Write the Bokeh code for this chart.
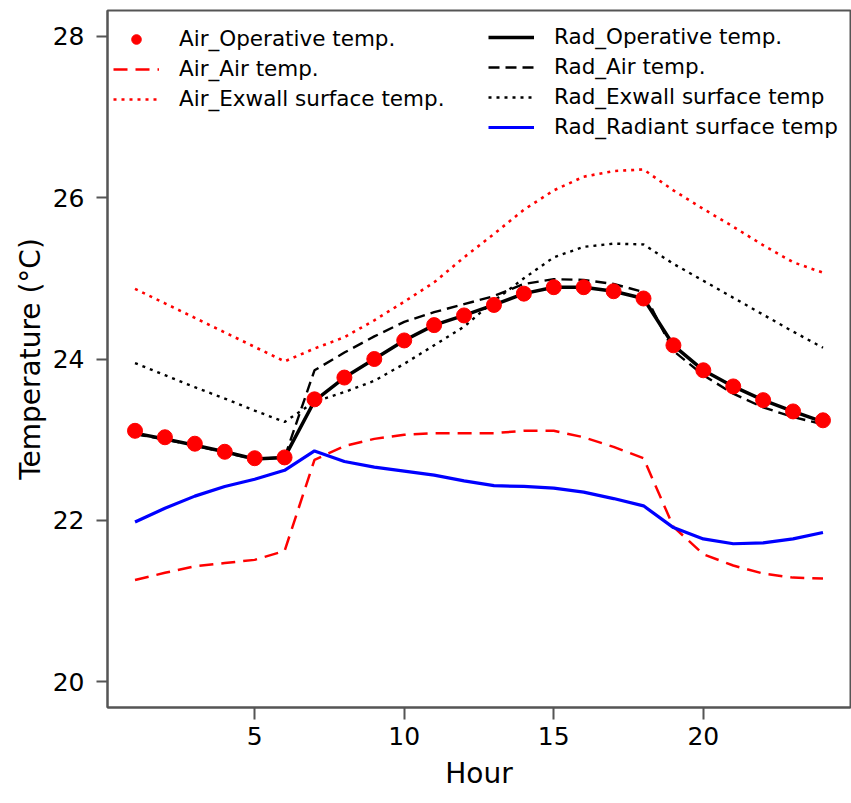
from bokeh.plotting import figure
from bokeh.models import Legend, LegendItem, FixedTicker, Range1d
from bokeh.embed import file_html
from bokeh.resources import INLINE

hours = list(range(1, 25))
air_operative = [23.11, 23.03, 22.95, 22.85, 22.77, 22.78, 23.50, 23.77, 24.00, 24.23, 24.42, 24.54,
                 24.67, 24.81, 24.89, 24.89, 24.84, 24.75, 24.17, 23.86, 23.66, 23.49, 23.35, 23.24]
air_air = [21.26, 21.35, 21.43, 21.47, 21.51, 21.62, 22.75, 22.92, 23.01, 23.06, 23.08, 23.08,
           23.08, 23.11, 23.11, 23.03, 22.91, 22.77, 21.92, 21.58, 21.44, 21.34, 21.29, 21.28]
air_exwall = [24.87, 24.69, 24.51, 24.33, 24.15, 23.97, 24.13, 24.27, 24.48, 24.71, 24.95, 25.26,
              25.55, 25.85, 26.09, 26.26, 26.33, 26.35, 26.09, 25.86, 25.64, 25.41, 25.20, 25.07]
rad_operative = [23.08, 23.01, 22.93, 22.85, 22.76, 22.78, 23.48, 23.77, 24.00, 24.23, 24.42, 24.54,
                 24.67, 24.81, 24.89, 24.89, 24.84, 24.75, 24.17, 23.86, 23.66, 23.49, 23.35, 23.22]
rad_air = [23.07, 23.00, 22.93, 22.84, 22.76, 22.78, 23.86, 24.08, 24.28, 24.46, 24.58, 24.68,
           24.78, 24.93, 24.99, 24.98, 24.93, 24.83, 24.10, 23.80, 23.57, 23.40, 23.28, 23.19]
rad_exwall = [23.95, 23.80, 23.65, 23.51, 23.36, 23.22, 23.47, 23.59, 23.73, 23.94, 24.17, 24.40,
              24.72, 25.00, 25.26, 25.39, 25.43, 25.42, 25.18, 24.97, 24.76, 24.55, 24.34, 24.14]
rad_radiant = [21.98, 22.15, 22.30, 22.42, 22.51, 22.62, 22.86, 22.73, 22.66, 22.61, 22.56, 22.49,
               22.43, 22.42, 22.40, 22.35, 22.27, 22.18, 21.91, 21.77, 21.71, 21.72, 21.77, 21.85]

x_ticks = [5, 10, 15, 20]
y_ticks = [20, 22, 24, 26, 28]

FONT = "DejaVu Sans"
AX = "#555555"

p = figure(width=851, height=803, output_backend="svg", toolbar_location=None,
           x_range=Range1d(0.08, 24.92), y_range=Range1d(19.68, 28.32),
           min_border_left=107, min_border_right=1, min_border_top=10, min_border_bottom=96,
           x_axis_label="Hour", y_axis_label="Temperature (\u00b0C)")
p.xgrid.visible = False
p.ygrid.visible = False
p.outline_line_color = AX
p.outline_line_width = 2
p.background_fill_color = "white"
p.border_fill_color = "white"

for ax in (p.xaxis[0], p.yaxis[0]):
    ax.axis_line_color = AX
    ax.axis_line_width = 2
    ax.major_tick_line_color = AX
    ax.major_tick_line_width = 2
    ax.minor_tick_line_color = None
    ax.major_tick_in = 0
    ax.major_label_text_font = FONT
    ax.major_label_text_font_size = "25px"
    ax.major_label_text_color = "black"
    ax.axis_label_text_font = FONT
    ax.axis_label_text_font_size = "28px"
    ax.axis_label_text_font_style = "normal"
    ax.axis_label_text_color = "black"

p.xaxis.ticker = FixedTicker(ticks=x_ticks)
p.yaxis.ticker = FixedTicker(ticks=y_ticks)
p.xaxis.major_tick_out = 12
p.yaxis.major_tick_out = 11
p.xaxis.major_label_standoff = 7
p.yaxis.major_label_standoff = 12
p.xaxis.axis_label_standoff = 9
p.yaxis.axis_label_standoff = 3

r_aair = p.line(hours, air_air, line_color="#ff0000", line_width=2.5, line_dash="14 8")
r_aex = p.line(hours, air_exwall, line_color="#ff0000", line_width=2.6, line_dash="3 5")
r_rex = p.line(hours, rad_exwall, line_color="black", line_width=2.4, line_dash="3 5")
r_rair = p.line(hours, rad_air, line_color="black", line_width=2.4, line_dash="11 6")
r_rad = p.line(hours, rad_radiant, line_color="#0000ff", line_width=3.2)
r_rop = p.line(hours, rad_operative, line_color="black", line_width=3.5)
r_aop = p.scatter(hours, air_operative, size=15, fill_color="#ff0000", line_color="#ff0000")

def make_legend(items, loc):
    lg = Legend(items=items, location=loc, orientation="vertical",
                border_line_color=None, background_fill_alpha=0,
                padding=0, margin=0, spacing=5,
                glyph_width=46, glyph_height=24, label_height=24,
                label_standoff=20,
                label_text_font=FONT, label_text_font_size="21.5px",
                label_text_color="black")
    return lg

leg1 = make_legend([
    LegendItem(label="Air_Operative temp.", renderers=[r_aop]),
    LegendItem(label="Air_Air temp.", renderers=[r_aair]),
    LegendItem(label="Air_Exwall surface temp.", renderers=[r_aex]),
], (6, 596))
leg2 = make_legend([
    LegendItem(label="Rad_Operative temp.", renderers=[r_rop]),
    LegendItem(label="Rad_Air temp.", renderers=[r_rair]),
    LegendItem(label="Rad_Exwall surface temp", renderers=[r_rex]),
    LegendItem(label="Rad_Radiant surface temp", renderers=[r_rad]),
], (381, 568))
p.add_layout(leg1, "center")
p.add_layout(leg2, "center")

open("out.html", "w").write(file_html(p, INLINE))
